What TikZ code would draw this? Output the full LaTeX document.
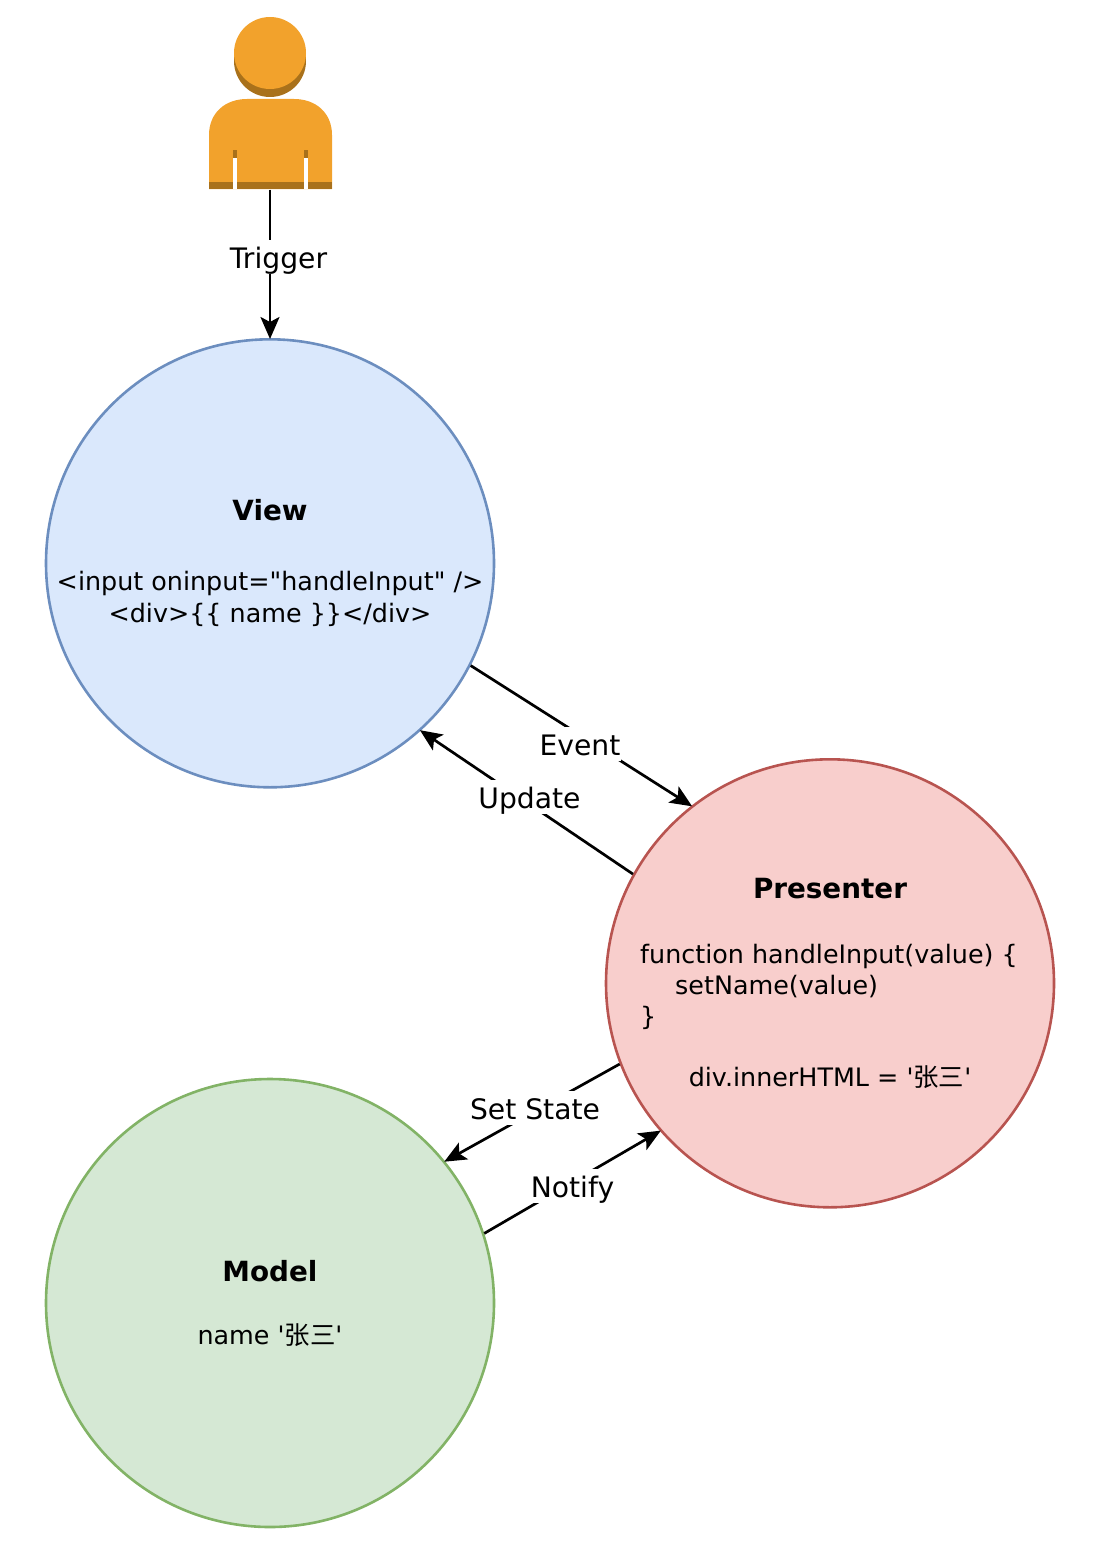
\documentclass[tikz,border=0pt]{standalone}
\usepackage{fontspec}
\newfontfamily\dv{DejaVu Sans}
\newfontfamily\cjk{Noto Sans CJK SC}
\usetikzlibrary{arrows.meta}
\definecolor{viewfill}{HTML}{DAE8FC}\definecolor{viewline}{HTML}{6C8EBF}
\definecolor{presfill}{HTML}{F8CECC}\definecolor{presline}{HTML}{B85450}
\definecolor{modelfill}{HTML}{D5E8D4}\definecolor{modelline}{HTML}{82B366}
\definecolor{personfill}{HTML}{F2A22C}\definecolor{persondark}{HTML}{A9711B}
\tikzset{
  x=1pt,y=-1pt,
  bubble/.style={circle,draw,line width=2.6pt,minimum size=448pt,inner sep=0pt},
  body/.style={font=\dv\fontsize{25.4}{30}\selectfont,anchor=base,inner sep=0pt},
  title/.style={body,font=\dv\fontsize{27.8}{32}\selectfont\bfseries},
  lbl/.style={body,font=\dv\fontsize{28.2}{32}\selectfont,fill=white,inner xsep=1pt,text height=28.5pt,text depth=5.5pt},
  conn/.style={line width=2.7pt,-{Stealth[length=22pt,width=19pt,inset=5pt]},shorten >=-1pt},
}
\begin{document}
\begin{tikzpicture}
\useasboundingbox (0,0) rectangle (1108,1552);
% person
\fill[persondark] (270,61) circle[radius=36];
\fill[personfill] (270,53) circle[radius=36];
\fill[personfill] (209,189) -- (209,135) .. controls (209,113) and (225,99) .. (247,99) -- (294,99) .. controls (316,99) and (332,113) .. (332,135) -- (332,189) -- cycle;
\fill[persondark] (209,182) rectangle (332,189);
\fill[persondark] (233,150) rectangle (237,158);
\fill[persondark] (304,150) rectangle (308,158);
\fill[white] (233,158) rectangle (237,189);
\fill[white] (304,158) rectangle (308,189);
\node[inner sep=0pt,minimum width=123pt,minimum height=172pt] (person) at (270,103.5) {};
% circles
\node[bubble,draw=viewline,fill=viewfill] (view) at (270,563.3) {};
\node[bubble,draw=presline,fill=presfill] (presenter) at (830,983.3) {};
\node[bubble,draw=modelline,fill=modelfill] (model) at (270,1303) {};
% connectors
\draw[conn] (person.south) -- (view.north);
\draw[conn] (view.-27.2) -- (presenter.128.9);
\draw[conn] (presenter.151) -- (view.-48.2);
\draw[conn] (presenter.201.3) -- (model.39.7);
\draw[conn] (model.18.1) -- (presenter.221.2);
% connector labels
\node[lbl] (ltrigger) at (278.5,268) {Trigger};
\node[lbl] (levent) at (580,755) {Event};
\node[lbl] (lupdate) at (529.5,808) {Update};
\node[lbl] (lset) at (535,1119) {Set State};
\node[lbl] (lnotify) at (572.5,1197) {Notify};
% text
\node[title] (t1) at (270,520) {View};
\node[body] (t2) at (270,590) {<input oninput="handleInput" />};
\node[body] (t3) at (270,622) {<div>\{\{ name \}\}</div>};
\node[title] (t4) at (830,898) {Presenter};
\node[body,anchor=base west] (t5) at (640,963) {function handleInput(value) \{};
\node[body,anchor=base west] (t6) at (675,994) {setName(value)};
\node[body,anchor=base west] (t7) at (640,1025) {\}};
\node[body] (t8) at (830,1086) {div.innerHTML = '{\cjk 张三}'};
\node[title] (t9) at (270,1281) {Model};
\node[body] (t10) at (270,1344) {name '{\cjk 张三}'};
\end{tikzpicture}
\end{document}
